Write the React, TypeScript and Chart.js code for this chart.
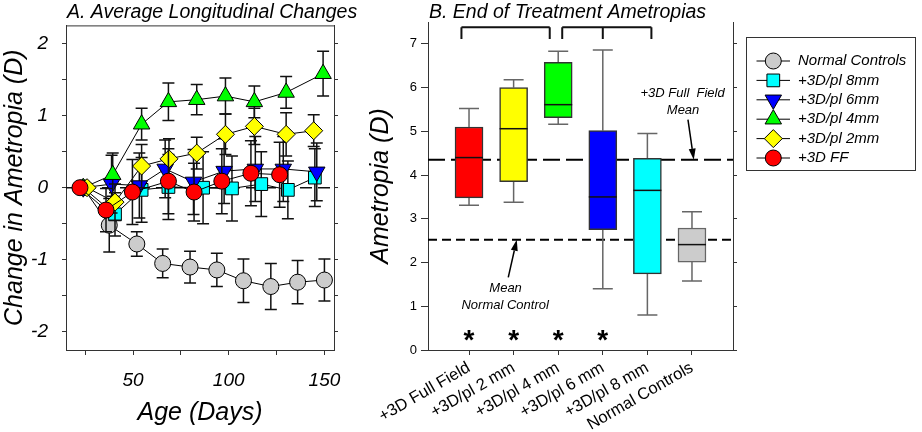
import React, { useEffect, useRef } from 'react';
import { Chart, registerables } from 'chart.js';
import { drawPoint } from 'chart.js/helpers';

Chart.register(...registerables);

const FONT = "'Liberation Sans', Arial, Helvetica, sans-serif";
Chart.defaults.font.family = FONT;
Chart.defaults.color = '#000';

// ---------------- Panel A data ----------------
const SERIES_NAMES = ['Normal Controls', '+3D/pl 8mm', '+3D/pl 6mm', '+3D/pl 4mm', '+3D/pl 2mm', '+3D FF'];

const NC_AGE = [24, 37.6, 52, 65.5, 79.8, 93.8, 107.7, 122, 136, 150];
const NC_CHANGE = [0, -0.52, -0.78, -1.05, -1.1, -1.14, -1.29, -1.37, -1.31, -1.28];
const NC_SEM = [0, 0.37, 0.17, 0.2, 0.22, 0.23, 0.3, 0.32, 0.3, 0.29];

const PL8_AGE = [24, 40.6, 54.5, 68.5, 86.6, 101.7, 117, 130.9, 145];
const PL8_CHANGE = [0, -0.37, -0.03, 0.01, 0, -0.01, 0.05, -0.03, 0.14];
const PL8_SEM = [0, 0.3, 0.45, 0.45, 0.5, 0.45, 0.45, 0.4, 0.4];

const PL6_AGE = [24, 38.8, 53.3, 66.8, 81.6, 97.6, 113.9, 128.5, 146];
const PL6_CHANGE = [0, 0.05, 0.03, 0.26, 0.08, 0.23, 0.26, 0.26, 0.22];
const PL6_SEM = [0, 0.4, 0.45, 0.4, 0.45, 0.45, 0.45, 0.45, 0.4];

const PL4_AGE = [24, 39.4, 54.5, 68.5, 83.3, 98.3, 113.4, 130, 149.3];
const PL4_CHANGE = [0, 0.18, 0.88, 1.19, 1.22, 1.27, 1.19, 1.32, 1.58];
const PL4_SEM = [0, 0.3, 0.22, 0.26, 0.21, 0.25, 0.22, 0.22, 0.31];

const PL2_AGE = [26, 40.6, 54.5, 68.8, 83.3, 98.3, 113.4, 130, 144.4];
const PL2_CHANGE = [0, -0.2, 0.3, 0.4, 0.48, 0.74, 0.85, 0.74, 0.79];
const PL2_SEM = [0, 0.25, 0.3, 0.28, 0.22, 0.28, 0.25, 0.3, 0.22];

const FF_AGE = [22.3, 35.9, 49.7, 68.5, 81.9, 96.4, 111.6, 126.6];
const FF_CHANGE = [0, -0.31, -0.06, 0.09, -0.06, 0.09, 0.2, 0.18];
const FF_SEM = [0, 0.3, 0.45, 0.45, 0.4, 0.45, 0.45, 0.45];

const A_X_TICKS = [25, 50, 75, 100, 125, 150];
const A_Y_TICKS = [-2, -1.5, -1, -0.5, 0, 0.5, 1, 1.5, 2];

// styles (kept apart from the data)
const SERIES_STYLE = [
  { color: '#cccccc', shape: 'circle', rotation: 0, radius: 8 },
  { color: '#00ffff', shape: 'rect', rotation: 0, radius: 9 },
  { color: '#0000ff', shape: 'triangle', rotation: 180, radius: 9.5 },
  { color: '#00ff00', shape: 'triangle', rotation: 0, radius: 9.5 },
  { color: '#ffff00', shape: 'rectRot', rotation: 0, radius: 9 },
  { color: '#ff0000', shape: 'circle', rotation: 0, radius: 8 },
];

const SERIES = [
  { age: NC_AGE, change: NC_CHANGE, sem: NC_SEM },
  { age: PL8_AGE, change: PL8_CHANGE, sem: PL8_SEM },
  { age: PL6_AGE, change: PL6_CHANGE, sem: PL6_SEM },
  { age: PL4_AGE, change: PL4_CHANGE, sem: PL4_SEM },
  { age: PL2_AGE, change: PL2_CHANGE, sem: PL2_SEM },
  { age: FF_AGE, change: FF_CHANGE, sem: FF_SEM },
];

// ---------------- Panel B data ----------------
const BOX_LABELS = ['+3D Full Field', '+3D/pl 2 mm', '+3D/pl 4 mm', '+3D/pl 6 mm', '+3D/pl 8 mm', 'Normal Controls'];
const BOX_MIN = [3.31, 3.38, 5.16, 1.4, 0.8, 1.58];
const BOX_Q1 = [3.48, 3.85, 5.31, 2.75, 1.74, 2.01];
const BOX_MEDIAN = [4.4, 5.06, 5.61, 3.5, 3.65, 2.41];
const BOX_Q3 = [5.1, 6.0, 6.58, 5.02, 4.38, 2.79];
const BOX_MAX = [5.52, 6.18, 6.83, 6.86, 4.95, 3.16];
const SIGNIFICANT = [true, true, true, true, false, false];
const FF_MEAN = 4.35;
const NC_MEAN = 2.52;
const B_Y_TICKS = [0, 1, 2, 3, 4, 5, 6, 7];

const BOX_COLORS = ['#ff0000', '#ffff00', '#00ff00', '#0000ff', '#00ffff', '#cccccc'];
const BOX_BORDERS = ['#333333', '#333333', '#333333', '#333333', '#333333', '#666666'];

const ITALIC = (size: number) => `italic ${size}px ${FONT}`;

// ---------------- Plugins ----------------
const errorBarPlugin = {
  id: 'errorBars',
  beforeDatasetDraw(chart: any, args: any) {
    const s = SERIES[args.index];
    if (!s) return;
    const ys = chart.scales.y;
    const ctx = chart.ctx;
    ctx.save();
    ctx.strokeStyle = '#111';
    ctx.lineWidth = 1.5;
    args.meta.data.forEach((pt: any, j: number) => {
      const e = s.sem[j];
      if (!e) return;
      const x = pt.x;
      const yt = ys.getPixelForValue(s.change[j] + e);
      const yb = ys.getPixelForValue(s.change[j] - e);
      ctx.beginPath();
      ctx.moveTo(x, yt); ctx.lineTo(x, yb);
      ctx.moveTo(x - 6, yt); ctx.lineTo(x + 6, yt);
      ctx.moveTo(x - 6, yb); ctx.lineTo(x + 6, yb);
      ctx.stroke();
    });
    ctx.restore();
  },
};

const panelAPlugin = {
  id: 'panelA',
  beforeDatasetsDraw(chart: any) {
    const { ctx, chartArea: ca, scales } = chart;
    ctx.save();
    ctx.strokeStyle = '#111';
    ctx.lineWidth = 1.5;
    ctx.setLineDash([12, 6]);
    const y0 = scales.y.getPixelForValue(0);
    ctx.beginPath(); ctx.moveTo(ca.left, y0); ctx.lineTo(ca.right, y0); ctx.stroke();
    ctx.setLineDash([]);
    ctx.strokeStyle = '#333';
    ctx.lineWidth = 1;
    ctx.beginPath(); ctx.moveTo(ca.left, ca.top + 0.5); ctx.lineTo(ca.right, ca.top + 0.5); ctx.stroke();
    ctx.restore();
  },
  afterDraw(chart: any) {
    const { ctx } = chart;
    ctx.save();
    ctx.fillStyle = '#000';
    ctx.font = ITALIC(19.5);
    ctx.textAlign = 'left';
    ctx.textBaseline = 'alphabetic';
    ctx.fillText('A. Average Longitudinal Changes', 67, 18);
    ctx.restore();
  },
};

function arrow(ctx: any, x0: number, y0: number, x1: number, y1: number) {
  const ang = Math.atan2(y1 - y0, x1 - x0);
  const len = 11, w = 3.5;
  const bx = x1 - Math.cos(ang) * len, by = y1 - Math.sin(ang) * len;
  ctx.beginPath(); ctx.moveTo(x0, y0); ctx.lineTo(bx, by); ctx.stroke();
  ctx.beginPath();
  ctx.moveTo(x1, y1);
  ctx.lineTo(bx + Math.sin(ang) * w, by - Math.cos(ang) * w);
  ctx.lineTo(bx - Math.sin(ang) * w, by + Math.cos(ang) * w);
  ctx.closePath(); ctx.fill();
}

const boxPlugin = {
  id: 'boxExtras',
  beforeDatasetsDraw(chart: any) {
    const { ctx, chartArea: ca, scales } = chart;
    const x = scales.x, y = scales.y;
    ctx.save();
    ctx.strokeStyle = '#000';
    ctx.lineWidth = 2;
    ctx.setLineDash([17, 6]);
    let py = y.getPixelForValue(FF_MEAN);
    ctx.beginPath(); ctx.moveTo(ca.left, py); ctx.lineTo(ca.right, py); ctx.stroke();
    ctx.setLineDash([9, 5]);
    py = y.getPixelForValue(NC_MEAN);
    ctx.beginPath(); ctx.moveTo(ca.left, py); ctx.lineTo(ca.right, py); ctx.stroke();
    ctx.setLineDash([]);
    ctx.strokeStyle = '#666';
    ctx.lineWidth = 1.5;
    BOX_LABELS.forEach((_, i) => {
      const cx = x.getPixelForValue(i + 1);
      const pmin = y.getPixelForValue(BOX_MIN[i]);
      const pmax = y.getPixelForValue(BOX_MAX[i]);
      const q1 = y.getPixelForValue(BOX_Q1[i]);
      const q3 = y.getPixelForValue(BOX_Q3[i]);
      ctx.beginPath();
      ctx.moveTo(cx, q3); ctx.lineTo(cx, pmax);
      ctx.moveTo(cx - 10, pmax); ctx.lineTo(cx + 10, pmax);
      ctx.moveTo(cx, q1); ctx.lineTo(cx, pmin);
      ctx.moveTo(cx - 10, pmin); ctx.lineTo(cx + 10, pmin);
      ctx.stroke();
    });
    ctx.restore();
  },
  afterDatasetsDraw(chart: any) {
    const { ctx, scales } = chart;
    const x = scales.x, y = scales.y;
    const meta = chart.getDatasetMeta(0);
    ctx.save();
    // medians
    ctx.strokeStyle = '#111';
    ctx.lineWidth = 1.5;
    meta.data.forEach((bar: any, i: number) => {
      const py = y.getPixelForValue(BOX_MEDIAN[i]);
      ctx.beginPath(); ctx.moveTo(bar.x - bar.width / 2, py); ctx.lineTo(bar.x + bar.width / 2, py); ctx.stroke();
    });
    // brackets
    ctx.strokeStyle = '#111';
    ctx.lineWidth = 2;
    const top = y.getPixelForValue(7.38), bot = y.getPixelForValue(7.11);
    const bracket = (xs: number[]) => {
      const px = xs.map((v) => x.getPixelForValue(v));
      ctx.beginPath();
      ctx.moveTo(px[0], top); ctx.lineTo(px[px.length - 1], top);
      px.forEach((p) => { ctx.moveTo(p, top); ctx.lineTo(p, bot); });
      ctx.stroke();
    };
    bracket([0.83, 2.81]);
    bracket([3.09, 4.0, 5.09]);
    // asterisks
    ctx.fillStyle = '#000';
    ctx.font = `bold 28px ${FONT}`;
    ctx.textAlign = 'center';
    ctx.textBaseline = 'middle';
    SIGNIFICANT.forEach((s, i) => {
      if (s) ctx.fillText('*', x.getPixelForValue(i + 1), y.getPixelForValue(0.34) + 6);
    });
    // annotations
    ctx.font = ITALIC(13);
    ctx.fillText('+3D Full  Field', x.getPixelForValue(5.79), y.getPixelForValue(5.87));
    ctx.fillText('Mean', x.getPixelForValue(5.8), y.getPixelForValue(5.47));
    ctx.fillText('Mean', x.getPixelForValue(1.82), y.getPixelForValue(1.41));
    ctx.fillText('Normal Control', x.getPixelForValue(1.81), y.getPixelForValue(1.01));
    ctx.strokeStyle = '#000';
    ctx.lineWidth = 1.5;
    arrow(ctx, x.getPixelForValue(5.91), y.getPixelForValue(5.27), x.getPixelForValue(6.04), y.getPixelForValue(4.35));
    arrow(ctx, x.getPixelForValue(1.88), y.getPixelForValue(1.66), x.getPixelForValue(2.07), y.getPixelForValue(2.52));
    ctx.restore();
  },
  afterDraw(chart: any) {
    const { ctx } = chart;
    ctx.save();
    ctx.fillStyle = '#000';
    ctx.font = ITALIC(19.5);
    ctx.textAlign = 'left';
    ctx.textBaseline = 'alphabetic';
    ctx.fillText('B. End of Treatment Ametropias', 84, 18);
    // legend for panel A
    const lx0 = 401, ly0 = 37, lx1 = 570, ly1 = 170;
    ctx.strokeStyle = '#333';
    ctx.lineWidth = 1;
    ctx.strokeRect(lx0 + 0.5, ly0 + 0.5, lx1 - lx0, ly1 - ly0);
    ctx.font = ITALIC(15);
    ctx.textBaseline = 'middle';
    SERIES_NAMES.forEach((name, i) => {
      const st = SERIES_STYLE[i];
      const cy = 61 + i * 19.4;
      ctx.strokeStyle = '#000';
      ctx.lineWidth = 1;
      ctx.beginPath(); ctx.moveTo(411.5, cy); ctx.lineTo(445, cy); ctx.stroke();
      ctx.fillStyle = st.color;
      drawPoint(ctx, { pointStyle: st.shape, rotation: st.rotation, radius: st.radius, borderWidth: 1 } as any, 428.3, cy);
      ctx.fillStyle = '#000';
      ctx.fillText(name, 453, cy);
    });
    ctx.restore();
  },
};

// ---------------- Configs ----------------
function makeConfigA(): any {
  return {
    type: 'line',
    data: {
      datasets: SERIES.map((s, i) => ({
        label: SERIES_NAMES[i],
        data: s.age.map((a, j) => ({ x: a, y: s.change[j] })),
        borderColor: '#000',
        borderWidth: 1,
        backgroundColor: SERIES_STYLE[i].color,
        pointBackgroundColor: SERIES_STYLE[i].color,
        pointBorderColor: '#000',
        pointBorderWidth: 1,
        pointStyle: SERIES_STYLE[i].shape,
        pointRotation: SERIES_STYLE[i].rotation,
        pointRadius: SERIES_STYLE[i].radius,
        pointHoverRadius: SERIES_STYLE[i].radius,
        fill: false,
        tension: 0,
        order: SERIES.length - 1 - i,
      })),
    },
    options: {
      responsive: false,
      animation: false,
      devicePixelRatio: 1,
      layout: { padding: { top: 22, left: 0, right: 15, bottom: 0 } },
      plugins: { legend: { display: false }, tooltip: { enabled: false }, title: { display: false } },
      scales: {
        x: {
          type: 'linear', position: 'bottom', min: 15, max: 155, offset: false,
          afterBuildTicks: (s: any) => { s.ticks = A_X_TICKS.map((v) => ({ value: v })); },
          afterFit: (s: any) => { s.height = 82; },
          ticks: {
            callback: (v: number) => (v % 50 === 0 ? String(v) : ''),
            font: { size: 19, style: 'italic' }, color: '#000', padding: 14, maxRotation: 0, autoSkip: false,
          },
          grid: { drawOnChartArea: false, drawTicks: true, tickLength: 5, color: '#333', lineWidth: 1 },
          border: { display: true, color: '#333', width: 1 },
          title: { display: true, text: 'Age (Days)', font: { size: 25, style: 'italic' }, color: '#000', padding: { top: 0, bottom: 4 } },
        },
        y: {
          type: 'linear', position: 'left', min: -2.25, max: 2.25,
          afterBuildTicks: (s: any) => { s.ticks = A_Y_TICKS.map((v) => ({ value: v })); },
          afterFit: (s: any) => { s.width = 66; },
          ticks: {
            callback: (v: number) => (Number.isInteger(v) ? String(v) : ''),
            font: { size: 19, style: 'italic' }, color: '#000', padding: 14, autoSkip: false,
          },
          grid: { drawOnChartArea: false, drawTicks: true, tickLength: 4, color: '#333', lineWidth: 1 },
          border: { display: true, color: '#333', width: 1 },
          title: { display: true, text: 'Change in Ametropia (D)', font: { size: 25, style: 'italic' }, color: '#000', padding: { top: 0, bottom: 0 } },
        },
        y2: {
          type: 'linear', position: 'right', min: -2.25, max: 2.25,
          afterBuildTicks: (s: any) => { s.ticks = A_Y_TICKS.map((v) => ({ value: v })); },
          afterFit: (s: any) => { s.width = 11; },
          ticks: { display: false },
          grid: { drawOnChartArea: false, drawTicks: true, tickLength: 4, color: '#333', lineWidth: 1 },
          border: { display: true, color: '#333', width: 1 },
        },
      },
    },
    plugins: [errorBarPlugin, panelAPlugin],
  };
}

function makeConfigB(): any {
  return {
    type: 'bar',
    data: {
      datasets: [
        {
          label: 'Ametropia',
          data: BOX_LABELS.map((_, i) => ({ x: i + 1, y: [BOX_Q1[i], BOX_Q3[i]] })),
          backgroundColor: BOX_COLORS,
          borderColor: BOX_BORDERS,
          borderWidth: 1.5,
          borderSkipped: false,
          barThickness: 28,
        },
      ],
    },
    options: {
      responsive: false,
      animation: false,
      devicePixelRatio: 1,
      layout: { padding: { top: 22, left: 0, right: 179, bottom: 0 } },
      plugins: { legend: { display: false }, tooltip: { enabled: false }, title: { display: false } },
      scales: {
        x: {
          type: 'linear', position: 'bottom', min: 0.08, max: 6.92, offset: false,
          afterBuildTicks: (s: any) => { s.ticks = BOX_LABELS.map((_, i) => ({ value: i + 1 })); },
          afterFit: (s: any) => { s.height = 82; },
          ticks: {
            callback: (v: number) => BOX_LABELS[Math.round(v) - 1] ?? '',
            font: { size: 16.5 }, color: '#000', padding: 3, minRotation: 30, maxRotation: 30, autoSkip: false,
          },
          grid: { drawOnChartArea: false, drawTicks: true, tickLength: 5, color: '#333', lineWidth: 1, offset: false },
          border: { display: true, color: '#333', width: 1 },
        },
        y: {
          type: 'linear', position: 'left', min: 0, max: 7.5,
          afterBuildTicks: (s: any) => { s.ticks = B_Y_TICKS.map((v) => ({ value: v })); },
          afterFit: (s: any) => { s.width = 83; },
          ticks: { font: { size: 13 }, color: '#000', padding: 4, autoSkip: false },
          grid: { drawOnChartArea: false, drawTicks: true, tickLength: 7, color: '#333', lineWidth: 1 },
          border: { display: true, color: '#333', width: 1 },
          title: { display: true, text: 'Ametropia (D)', font: { size: 25, style: 'italic' }, color: '#000', padding: { top: 21, bottom: 0 } },
        },
        y2: {
          type: 'linear', position: 'right', min: 0, max: 7.5,
          afterBuildTicks: (s: any) => { s.ticks = B_Y_TICKS.map((v) => ({ value: v })); },
          afterFit: (s: any) => { s.width = 10; },
          ticks: { display: false },
          grid: { drawOnChartArea: false, drawTicks: true, tickLength: 4, color: '#333', lineWidth: 1 },
          border: { display: true, color: '#333', width: 1 },
        },
      },
    },
    plugins: [boxPlugin],
  };
}

export default function App() {
  const refA = useRef<HTMLCanvasElement>(null);
  const refB = useRef<HTMLCanvasElement>(null);
  useEffect(() => {
    const a = new Chart(refA.current as HTMLCanvasElement, makeConfigA());
    const b = new Chart(refB.current as HTMLCanvasElement, makeConfigB());
    return () => {
      a.destroy();
      b.destroy();
    };
  }, []);
  return (
    <div style={{ position: 'absolute', left: 0, top: 0, width: 922, height: 432, background: '#fff', overflow: 'hidden' }}>
      <canvas ref={refA} width={360} height={432} style={{ position: 'absolute', left: 0, top: 0, width: 360, height: 432 }} />
      <canvas ref={refB} width={577} height={432} style={{ position: 'absolute', left: 345, top: 0, width: 577, height: 432 }} />
    </div>
  );
}
